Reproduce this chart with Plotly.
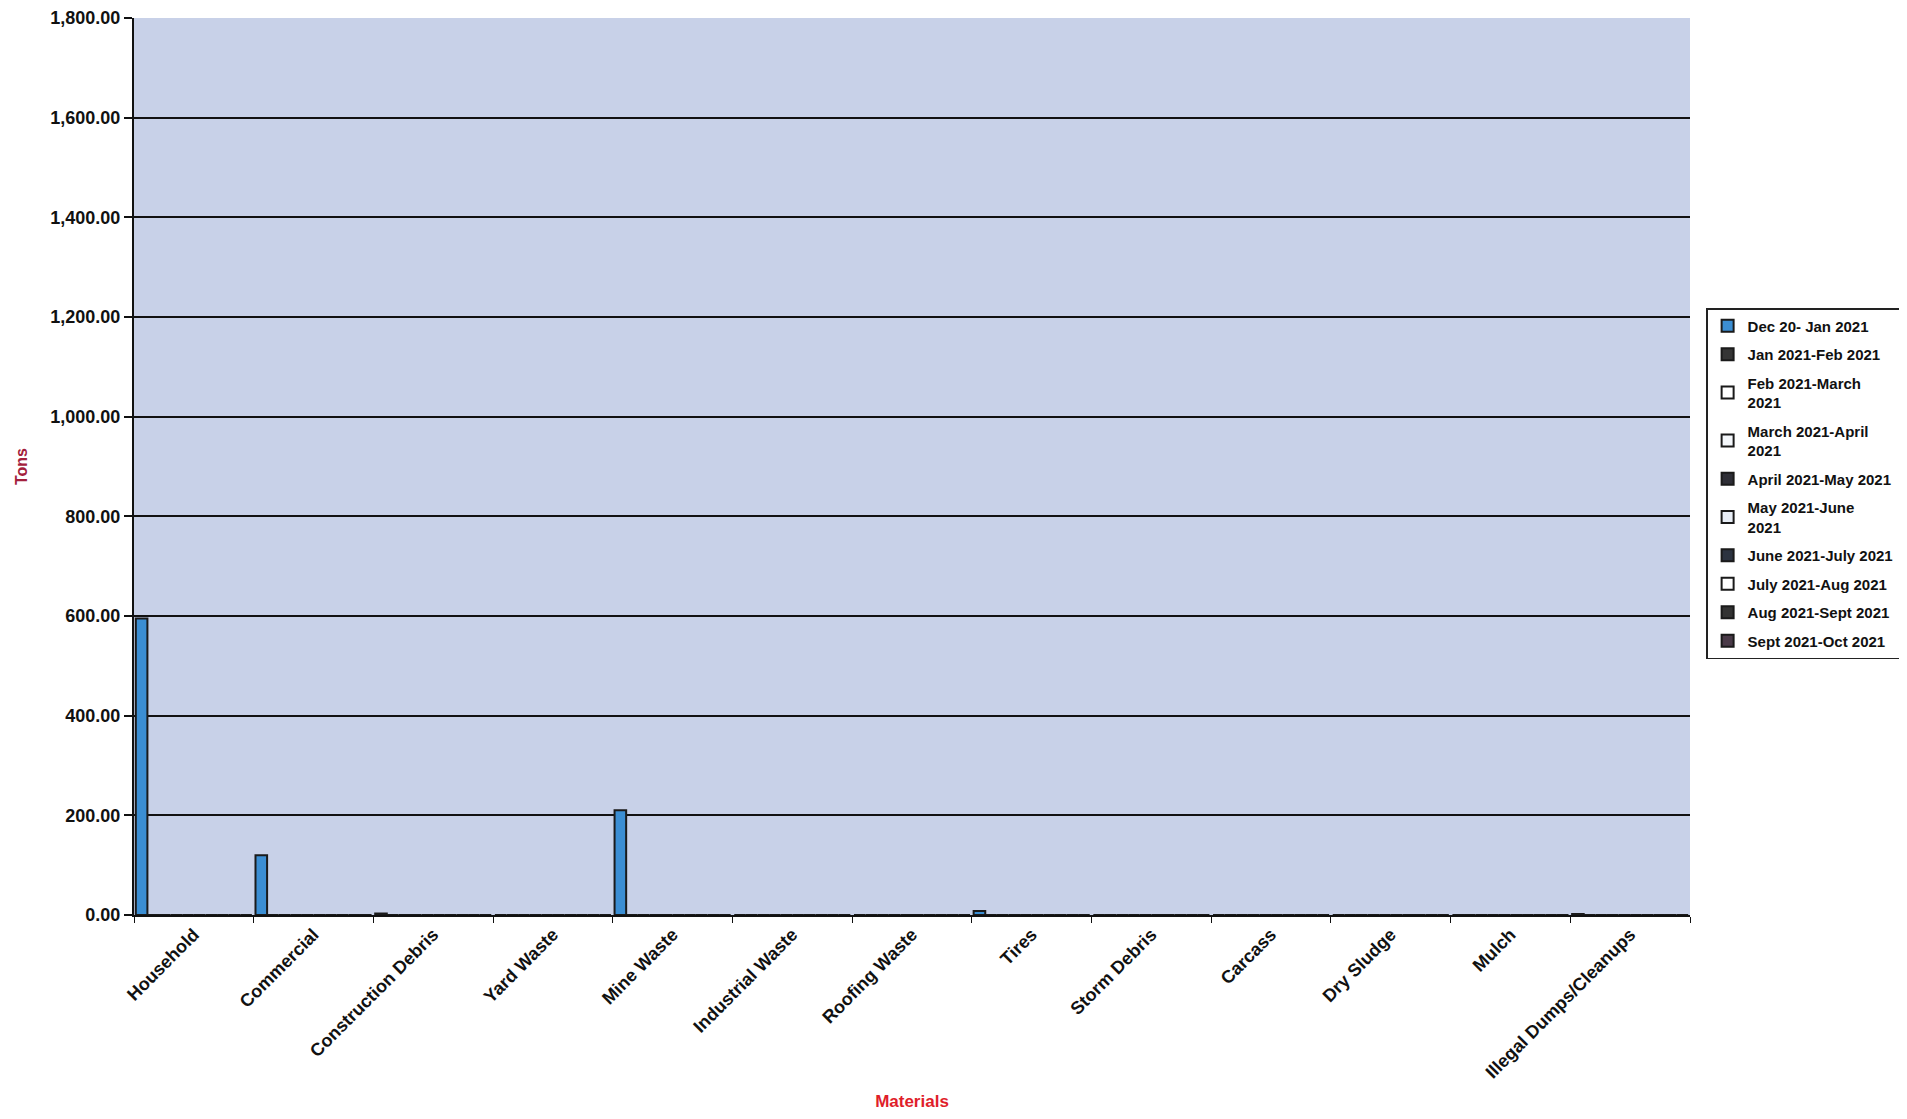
import plotly.graph_objects as go

categories = ["Household", "Commercial", "Construction Debris", "Yard Waste", "Mine Waste",
              "Industrial Waste", "Roofing Waste", "Tires", "Storm Debris", "Carcass",
              "Dry Sludge", "Mulch", "Illegal Dumps/Cleanups"]

series_names = ["Dec 20- Jan 2021", "Jan 2021-Feb 2021", "Feb 2021-March<br>2021",
                "March 2021-April<br>2021", "April 2021-May 2021", "May 2021-June<br>2021",
                "June 2021-July 2021", "July 2021-Aug 2021", "Aug 2021-Sept 2021",
                "Sept 2021-Oct 2021"]

dec_jan = [595, 120, 3, 0, 210, 0, 0, 8, 0, 0, 0, 0, 2]
jan_feb = [0] * 13
feb_mar = [0] * 13
mar_apr = [0] * 13
apr_may = [0] * 13
may_jun = [0] * 13
jun_jul = [0] * 13
jul_aug = [0] * 13
aug_sep = [0] * 13
sep_oct = [0] * 13
series_values = [dec_jan, jan_feb, feb_mar, mar_apr, apr_may, may_jun, jun_jul, jul_aug, aug_sep, sep_oct]

colors = ["#3b8ed3", "#353535", "#ffffff", "#f4f7fb", "#2e2e36", "#e8eef6",
          "#2c3340", "#ffffff", "#333333", "#4a3a48"]

fig = go.Figure()
for i, (name, vals) in enumerate(zip(series_names, series_values)):
    fig.add_trace(go.Bar(
        x=categories, y=vals, name=name, legendgroup=str(i),
        marker=dict(color=colors[i], line=dict(color="#1a1a1a", width=2)),
    ))

FAM = "Liberation Sans, Arial, sans-serif"
font_main = dict(family=FAM, size=18, color="#111111", weight="bold")

fig.update_layout(
    width=1891, height=1103,
    barmode="group", bargap=0.03, bargroupgap=0,
    paper_bgcolor="#ffffff", plot_bgcolor="#c8d1e8",
    margin=dict(l=126, r=209, t=10, b=196, autoexpand=False),
    font=font_main,
    showlegend=True,
    legend=dict(
        xref="container", yref="container",
        x=0.898, xanchor="left", y=0.728, yanchor="top",
        bgcolor="#ffffff", bordercolor="#222222", borderwidth=1.5,
        font=dict(family=FAM, size=15, color="#111111", weight="bold"),
        traceorder="grouped", tracegroupgap=6,
        itemwidth=30,
    ),
)

fig.update_yaxes(
    range=[0, 1800], dtick=200, tickformat=",.2f",
    showgrid=True, gridcolor="#111111", gridwidth=1.6,
    showline=True, linecolor="#111111", linewidth=2,
    ticks="outside", ticklen=8, tickcolor="#111111", tickwidth=1.5,
    zeroline=False,
    tickfont=dict(family=FAM, size=18, color="#111111", weight="bold"),
    title=dict(text="Tons", standoff=19,
               font=dict(family=FAM, size=16, color="#a3203c", weight="bold")),
    automargin=False,
)

fig.update_xaxes(
    type="category", tickangle=-45, tickson="boundaries",
    showline=True, linecolor="#111111", linewidth=2,
    ticks="outside", ticklen=6, tickcolor="#111111",
    showgrid=False,
    tickfont=font_main,
    title=dict(text="Materials", standoff=32,
               font=dict(family=FAM, size=17, color="#e01e2a", weight="bold")),
    automargin=False,
)

fig.write_html("out.html")
